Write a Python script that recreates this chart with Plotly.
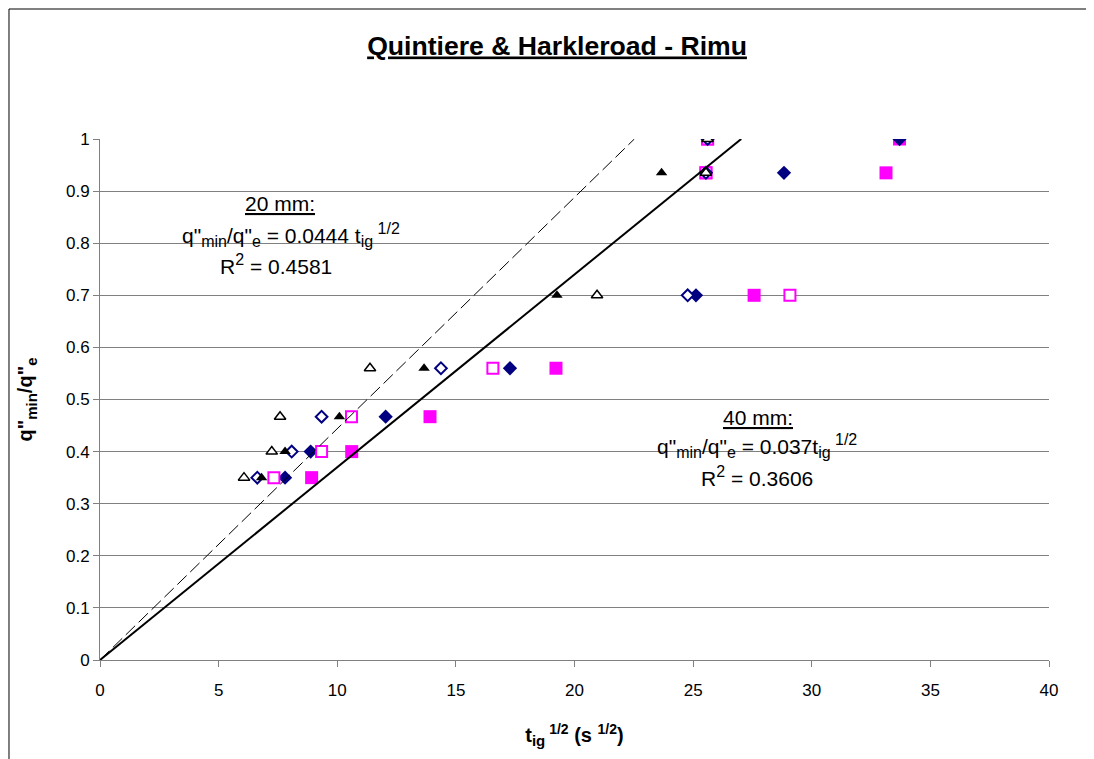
import plotly.graph_objects as go

# q"min/q"e levels (same for every series)
levels = [0.35, 0.4, 0.467, 0.56, 0.7, 0.935, 1.0]

# t_ig^1/2 values, one list per marker series
open_tri_x = [6.07, 7.24, 7.59, 11.38, 20.95, 25.54, 25.61]
filled_tri_x = [6.81, 7.80, 10.09, 13.66, 19.26, 23.67, 25.61]
open_dia_x = [6.63, 8.08, 9.34, 14.37, 24.77, 25.54, 25.61]
filled_dia_x = [7.80, 8.88, 12.04, 17.28, 25.12, 28.83, 33.70]
open_sq_x = [7.33, 9.34, 10.60, 16.56, 29.08, 25.54, 25.61]
filled_sq_x = [8.92, 10.61, 13.91, 19.22, 27.57, 25.54, 33.13, 25.61, 33.70]
filled_sq_y = [0.35, 0.4, 0.467, 0.56, 0.7, 0.935, 0.935, 1.0, 1.0]

# trendlines through origin
slope_20 = 0.0444
slope_40 = 0.037

font_name = "Liberation Sans, Arial, sans-serif"
grey = "#808080"

fig = go.Figure()

# draw order: bottom first
fig.add_trace(go.Scatter(x=filled_sq_x, y=filled_sq_y, mode="markers",
                         marker=dict(symbol="square", size=13, color="#FF00FF")))
fig.add_trace(go.Scatter(x=filled_dia_x, y=levels, mode="markers",
                         marker=dict(symbol="diamond", size=11, color="#000080")))
fig.add_trace(go.Scatter(x=open_sq_x, y=levels, mode="markers",
                         marker=dict(symbol="square", size=11, color="white",
                                     line=dict(color="#FF00FF", width=2))))
fig.add_trace(go.Scatter(x=open_dia_x, y=levels, mode="markers",
                         marker=dict(symbol="diamond", size=9, color="white",
                                     line=dict(color="#000080", width=2))))
fig.add_trace(go.Scatter(x=filled_tri_x, y=levels, mode="markers",
                         marker=dict(symbol="triangle-up", size=10, color="black")))
fig.add_trace(go.Scatter(x=open_tri_x, y=levels, mode="markers",
                         marker=dict(symbol="triangle-up", size=10, color="white",
                                     line=dict(color="black", width=1.5))))

# fitted lines
fig.add_trace(go.Scatter(x=[0, 1 / slope_20], y=[0, 1], mode="lines",
                         line=dict(color="black", width=1, dash="13px,5px")))
fig.add_trace(go.Scatter(x=[0, 1 / slope_40], y=[0, 1], mode="lines",
                         line=dict(color="black", width=2)))


def sm(s, px=16):
    # sub/superscript text a bit larger than plotly's default 70%
    return '<span style="font-size:%dpx">%s</span>' % (px, s)


ann_font = dict(family=font_name, size=21, color="black")
fig.add_annotation(text="<u>20 mm:</u>", x=7.59, y=0.877, showarrow=False, font=ann_font)
fig.add_annotation(text='q"<sub>' + sm("min") + '</sub>/q"<sub>' + sm("e") + '</sub> = 0.0444 t<sub>'
                   + sm("ig") + '</sub><sup>' + sm(" 1/2") + '</sup>',
                   x=8.05, y=0.816, showarrow=False, font=ann_font)
fig.add_annotation(text="R<sup>" + sm("2") + "</sup> = 0.4581", x=7.42, y=0.760,
                   showarrow=False, font=ann_font)
fig.add_annotation(text="<u>40 mm:</u>", x=27.73, y=0.466, showarrow=False, font=ann_font)
fig.add_annotation(text='q"<sub>' + sm("min") + '</sub>/q"<sub>' + sm("e") + '</sub> = 0.037t<sub>'
                   + sm("ig") + '</sub><sup>' + sm(" 1/2") + '</sup>',
                   x=27.69, y=0.411, showarrow=False, font=ann_font)
fig.add_annotation(text="R<sup>" + sm("2") + "</sup> = 0.3606", x=27.69, y=0.353,
                   showarrow=False, font=ann_font)

# chart area border
fig.add_shape(type="rect", xref="paper", yref="paper",
              x0=-0.0959, x1=1.0443, y0=-0.25, y1=1.2495,
              line=dict(color="black", width=1))

fig.update_layout(
    width=1094, height=759,
    margin=dict(l=92, r=53, t=131, b=107),
    plot_bgcolor="white", paper_bgcolor="white",
    showlegend=False,
    font=dict(family=font_name, size=17, color="black"),
    title=dict(text="<b><u>Quintiere & Harkleroad - Rimu</u></b>",
               x=0.4816, xref="paper", y=0.951, yanchor="middle",
               font=dict(family=font_name, size=26.6, color="black")),
)
fig.update_xaxes(range=[0, 40], dtick=5, showgrid=False, zeroline=False,
                 showline=True, linecolor=grey, linewidth=1,
                 ticks="outside", ticklen=6, tickcolor=grey,
                 tickfont=dict(size=17), ticklabelstandoff=9,
                 title=dict(text="<b>t<sub>" + sm("ig", 15) + "</sub><sup>" + sm(" 1/2", 14)
                            + "</sup> (s <sup>" + sm("1/2", 14) + "</sup>)</b>",
                            font=dict(size=20), standoff=28))
fig.update_yaxes(range=[0, 1], dtick=0.1, showgrid=True, gridcolor=grey, gridwidth=1,
                 zeroline=False, showline=True, linecolor=grey, linewidth=1,
                 ticks="outside", ticklen=6, tickcolor=grey,
                 tickfont=dict(size=17),
                 title=dict(text='<b>q"<sub>' + sm("min", 15) + '</sub>/q"<sub>' + sm("e", 15)
                            + '</sub></b>',
                            font=dict(size=20), standoff=27))

fig.write_html("out.html")
